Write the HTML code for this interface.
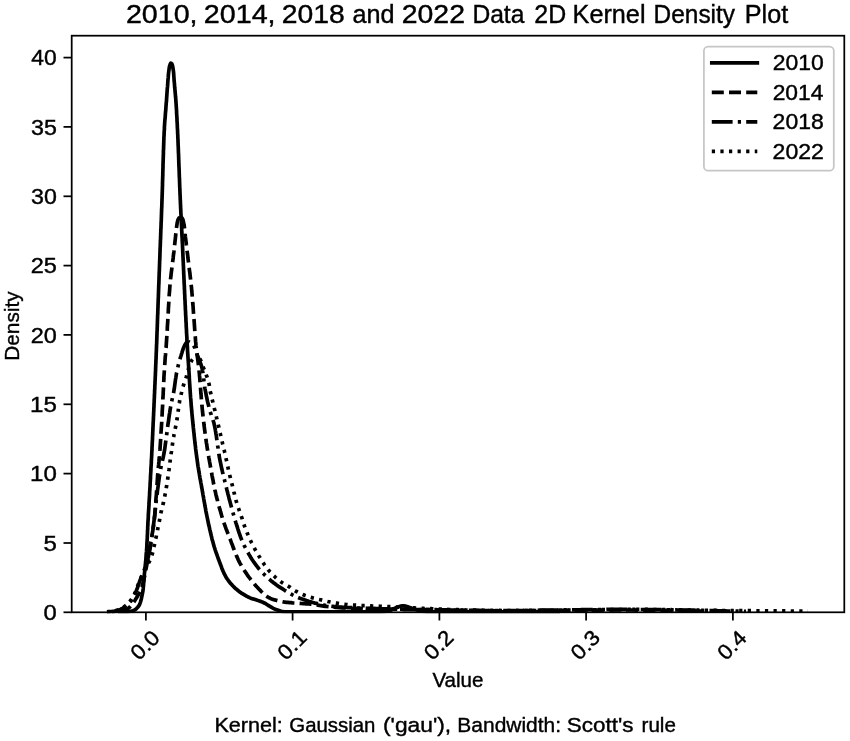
<!DOCTYPE html>
<html lang="en"><head><meta charset="utf-8"><title>2010, 2014, 2018 and 2022 Data 2D Kernel Density Plot</title>
<style>html,body{margin:0;padding:0;background:#fff;}body{width:850px;height:741px;overflow:hidden;}</style></head>
<body>
<svg width="850" height="741" viewBox="0 0 850 741" style="display:block">
<rect x="0" y="0" width="850" height="741" fill="#ffffff"/>
<defs><clipPath id="ax"><rect x="71.7" y="35.7" width="772.5999999999999" height="577.5999999999999"/></clipPath></defs>
<g clip-path="url(#ax)" fill="none" stroke="#000" stroke-linejoin="round">
<path d="M118.0 611.9 L119.5 611.9 L121.0 611.9 L122.5 611.9 L124.0 611.8 L125.5 611.8 L127.0 611.8 L128.5 611.6 L130.0 611.4 L131.5 611.1 L132.9 610.7 L134.3 610.1 L135.6 609.3 L136.7 608.3 L137.7 607.2 L138.7 606.0 L139.5 604.7 L140.0 603.4 L140.5 602.0 L140.9 600.5 L141.3 599.0 L141.6 597.6 L141.9 596.1 L142.2 594.6 L142.5 593.2 L142.8 591.7 L143.0 590.2 L143.2 588.7 L143.3 587.2 L143.5 585.7 L143.6 584.2 L143.7 582.8 L143.9 581.3 L144.0 579.8 L144.1 578.3 L144.2 576.8 L144.3 575.3 L144.4 573.8 L144.6 572.3 L144.7 570.8 L144.9 569.3 L145.0 567.8 L145.2 566.3 L145.3 564.8 L145.5 563.3 L145.6 561.8 L145.8 560.3 L145.9 558.8 L146.0 557.3 L146.1 555.8 L146.2 554.4 L146.3 552.9 L146.5 551.4 L146.6 549.9 L146.7 548.4 L146.8 546.9 L146.9 545.4 L146.9 543.9 L147.0 542.4 L147.1 540.9 L147.2 539.4 L147.3 537.9 L147.3 536.4 L147.4 534.9 L147.5 533.4 L147.5 531.9 L147.6 530.4 L147.7 528.9 L147.7 527.4 L147.8 525.9 L147.9 524.4 L147.9 522.9 L148.0 521.4 L148.1 519.9 L148.2 518.4 L148.3 516.9 L148.3 515.4 L148.4 513.9 L148.5 512.4 L148.6 510.9 L148.7 509.4 L148.8 507.9 L148.9 506.4 L149.0 504.9 L149.0 503.4 L149.1 501.9 L149.2 500.4 L149.3 498.9 L149.4 497.4 L149.5 495.9 L149.6 494.4 L149.6 492.9 L149.7 491.5 L149.8 490.0 L149.9 488.5 L150.0 487.0 L150.1 485.5 L150.1 484.0 L150.2 482.5 L150.3 481.0 L150.4 479.5 L150.5 478.0 L150.5 476.5 L150.6 475.0 L150.7 473.5 L150.8 472.0 L150.9 470.5 L150.9 469.0 L151.0 467.5 L151.1 466.0 L151.2 464.5 L151.3 463.0 L151.3 461.5 L151.4 460.0 L151.5 458.5 L151.6 457.0 L151.7 455.5 L151.7 454.0 L151.8 452.5 L151.9 451.0 L152.0 449.5 L152.0 448.0 L152.1 446.5 L152.2 445.0 L152.2 443.5 L152.3 442.0 L152.4 440.5 L152.5 439.0 L152.5 437.5 L152.6 436.0 L152.7 434.5 L152.7 433.0 L152.8 431.5 L152.9 430.0 L152.9 428.5 L153.0 427.0 L153.1 425.5 L153.1 424.0 L153.2 422.5 L153.3 421.0 L153.4 419.5 L153.4 418.0 L153.5 416.5 L153.6 415.0 L153.6 413.5 L153.7 412.0 L153.8 410.6 L153.8 409.1 L153.9 407.6 L154.0 406.1 L154.0 404.6 L154.1 403.1 L154.2 401.6 L154.2 400.1 L154.3 398.6 L154.4 397.1 L154.4 395.6 L154.5 394.1 L154.6 392.6 L154.6 391.1 L154.7 389.6 L154.8 388.1 L154.8 386.6 L154.9 385.1 L155.0 383.6 L155.0 382.1 L155.1 380.6 L155.2 379.1 L155.2 377.6 L155.3 376.1 L155.4 374.6 L155.4 373.1 L155.5 371.6 L155.6 370.1 L155.6 368.6 L155.7 367.1 L155.7 365.6 L155.8 364.1 L155.9 362.6 L155.9 361.1 L156.0 359.6 L156.1 358.1 L156.1 356.6 L156.2 355.1 L156.2 353.6 L156.3 352.1 L156.4 350.6 L156.4 349.1 L156.5 347.6 L156.5 346.1 L156.6 344.6 L156.7 343.1 L156.7 341.6 L156.8 340.1 L156.8 338.6 L156.9 337.1 L156.9 335.6 L157.0 334.1 L157.0 332.6 L157.1 331.1 L157.2 329.6 L157.2 328.1 L157.3 326.6 L157.3 325.1 L157.4 323.6 L157.4 322.1 L157.5 320.6 L157.5 319.1 L157.6 317.6 L157.6 316.1 L157.7 314.6 L157.8 313.1 L157.8 311.6 L157.9 310.1 L157.9 308.6 L158.0 307.1 L158.0 305.6 L158.1 304.1 L158.1 302.6 L158.2 301.1 L158.2 299.6 L158.3 298.1 L158.4 296.6 L158.4 295.1 L158.5 293.6 L158.5 292.1 L158.6 290.6 L158.6 289.1 L158.7 287.7 L158.7 286.2 L158.8 284.7 L158.9 283.2 L158.9 281.7 L159.0 280.2 L159.0 278.7 L159.1 277.2 L159.1 275.7 L159.2 274.2 L159.2 272.7 L159.3 271.2 L159.4 269.7 L159.4 268.2 L159.5 266.7 L159.5 265.2 L159.6 263.7 L159.6 262.2 L159.7 260.7 L159.8 259.2 L159.8 257.7 L159.9 256.2 L159.9 254.7 L160.0 253.2 L160.0 251.7 L160.1 250.2 L160.1 248.7 L160.2 247.2 L160.3 245.7 L160.3 244.2 L160.4 242.7 L160.4 241.2 L160.5 239.7 L160.6 238.2 L160.6 236.7 L160.7 235.2 L160.7 233.7 L160.8 232.2 L160.8 230.7 L160.9 229.2 L161.0 227.7 L161.0 226.2 L161.1 224.7 L161.1 223.2 L161.2 221.7 L161.3 220.2 L161.3 218.7 L161.4 217.2 L161.4 215.7 L161.5 214.2 L161.5 212.7 L161.6 211.2 L161.6 209.7 L161.7 208.2 L161.8 206.7 L161.8 205.2 L161.9 203.7 L161.9 202.2 L162.0 200.7 L162.0 199.2 L162.1 197.7 L162.1 196.2 L162.2 194.7 L162.2 193.2 L162.3 191.7 L162.3 190.2 L162.4 188.7 L162.4 187.2 L162.5 185.7 L162.5 184.2 L162.5 182.7 L162.6 181.2 L162.6 179.7 L162.7 178.2 L162.7 176.7 L162.8 175.2 L162.8 173.7 L162.8 172.2 L162.9 170.7 L162.9 169.2 L163.0 167.7 L163.0 166.2 L163.0 164.7 L163.1 163.2 L163.1 161.7 L163.2 160.2 L163.2 158.7 L163.3 157.2 L163.3 155.7 L163.4 154.2 L163.4 152.7 L163.4 151.2 L163.5 149.7 L163.6 148.2 L163.6 146.7 L163.7 145.2 L163.7 143.7 L163.8 142.2 L163.8 140.7 L163.9 139.2 L163.9 137.7 L164.0 136.2 L164.1 134.7 L164.1 133.2 L164.2 131.7 L164.3 130.3 L164.4 128.8 L164.4 127.3 L164.5 125.8 L164.6 124.3 L164.7 122.8 L164.8 121.3 L164.9 119.8 L165.1 118.3 L165.2 116.8 L165.3 115.3 L165.4 113.8 L165.5 112.3 L165.7 110.8 L165.8 109.3 L165.9 107.8 L166.0 106.3 L166.1 104.8 L166.2 103.3 L166.4 101.8 L166.5 100.3 L166.6 98.8 L166.7 97.3 L166.8 95.8 L166.9 94.3 L167.0 92.9 L167.1 91.4 L167.2 89.9 L167.3 88.4 L167.5 86.9 L167.6 85.4 L167.7 83.9 L167.8 82.4 L167.9 80.9 L168.0 79.4 L168.2 77.9 L168.3 76.4 L168.4 74.9 L168.5 73.4 L168.7 71.9 L168.9 70.4 L169.1 68.9 L169.3 67.4 L169.6 66.0 L170.1 64.5 L170.8 63.2 L171.8 63.8 L172.4 65.2 L172.7 66.7 L173.0 68.2 L173.2 69.7 L173.4 71.1 L173.6 72.6 L173.7 74.1 L173.8 75.6 L173.9 77.1 L174.0 78.6 L174.1 80.1 L174.2 81.6 L174.4 83.1 L174.5 84.6 L174.6 86.1 L174.7 87.6 L174.9 89.1 L175.0 90.6 L175.1 92.1 L175.3 93.6 L175.4 95.1 L175.5 96.6 L175.7 98.1 L175.8 99.6 L175.9 101.0 L176.0 102.5 L176.1 104.0 L176.2 105.5 L176.3 107.0 L176.4 108.5 L176.5 110.0 L176.6 111.5 L176.6 113.0 L176.7 114.5 L176.8 116.0 L176.9 117.5 L177.0 119.0 L177.0 120.5 L177.1 122.0 L177.2 123.5 L177.3 125.0 L177.3 126.5 L177.4 128.0 L177.5 129.5 L177.6 131.0 L177.6 132.5 L177.7 134.0 L177.8 135.5 L177.8 137.0 L177.9 138.5 L178.0 140.0 L178.0 141.5 L178.1 143.0 L178.1 144.5 L178.2 146.0 L178.3 147.5 L178.3 149.0 L178.4 150.5 L178.4 152.0 L178.5 153.5 L178.6 155.0 L178.6 156.5 L178.7 158.0 L178.7 159.5 L178.8 161.0 L178.8 162.5 L178.9 164.0 L178.9 165.5 L179.0 167.0 L179.1 168.5 L179.1 170.0 L179.2 171.5 L179.2 173.0 L179.3 174.5 L179.3 176.0 L179.4 177.5 L179.5 179.0 L179.5 180.5 L179.6 182.0 L179.6 183.5 L179.7 185.0 L179.7 186.5 L179.8 188.0 L179.9 189.5 L179.9 191.0 L180.0 192.5 L180.0 193.9 L180.1 195.4 L180.2 196.9 L180.2 198.4 L180.3 199.9 L180.4 201.4 L180.4 202.9 L180.5 204.4 L180.6 205.9 L180.6 207.4 L180.7 208.9 L180.8 210.4 L180.8 211.9 L180.9 213.4 L181.0 214.9 L181.1 216.4 L181.1 217.9 L181.2 219.4 L181.3 220.9 L181.4 222.4 L181.4 223.9 L181.5 225.4 L181.6 226.9 L181.7 228.4 L181.7 229.9 L181.8 231.4 L181.9 232.9 L181.9 234.4 L182.0 235.9 L182.1 237.4 L182.2 238.9 L182.2 240.4 L182.3 241.9 L182.4 243.4 L182.5 244.9 L182.5 246.4 L182.6 247.9 L182.7 249.4 L182.7 250.9 L182.8 252.4 L182.9 253.9 L182.9 255.4 L183.0 256.9 L183.1 258.4 L183.1 259.9 L183.2 261.4 L183.3 262.9 L183.3 264.4 L183.4 265.9 L183.5 267.4 L183.5 268.9 L183.6 270.4 L183.7 271.9 L183.7 273.4 L183.8 274.9 L183.9 276.4 L183.9 277.9 L184.0 279.4 L184.1 280.9 L184.1 282.4 L184.2 283.9 L184.3 285.4 L184.4 286.8 L184.4 288.3 L184.5 289.8 L184.6 291.3 L184.6 292.8 L184.7 294.3 L184.8 295.8 L184.8 297.3 L184.9 298.8 L185.0 300.3 L185.1 301.8 L185.1 303.3 L185.2 304.8 L185.3 306.3 L185.3 307.8 L185.4 309.3 L185.5 310.8 L185.6 312.3 L185.6 313.8 L185.7 315.3 L185.8 316.8 L185.9 318.3 L185.9 319.8 L186.0 321.3 L186.1 322.8 L186.2 324.3 L186.2 325.8 L186.3 327.3 L186.4 328.8 L186.5 330.3 L186.5 331.8 L186.6 333.3 L186.7 334.8 L186.8 336.3 L186.9 337.8 L186.9 339.3 L187.0 340.8 L187.1 342.3 L187.2 343.8 L187.3 345.3 L187.4 346.8 L187.5 348.3 L187.5 349.8 L187.6 351.3 L187.7 352.8 L187.8 354.3 L187.9 355.8 L188.0 357.3 L188.1 358.8 L188.2 360.2 L188.3 361.7 L188.4 363.2 L188.5 364.7 L188.6 366.2 L188.7 367.7 L188.8 369.2 L188.9 370.7 L189.0 372.2 L189.1 373.7 L189.2 375.2 L189.3 376.7 L189.3 378.2 L189.4 379.7 L189.5 381.2 L189.6 382.7 L189.7 384.2 L189.8 385.7 L189.9 387.2 L190.0 388.7 L190.1 390.2 L190.2 391.7 L190.3 393.2 L190.4 394.7 L190.5 396.2 L190.6 397.7 L190.8 399.2 L190.9 400.7 L191.0 402.2 L191.1 403.7 L191.2 405.1 L191.3 406.6 L191.5 408.1 L191.6 409.6 L191.7 411.1 L191.9 412.6 L192.0 414.1 L192.1 415.6 L192.3 417.1 L192.4 418.6 L192.6 420.1 L192.7 421.6 L192.9 423.1 L193.0 424.6 L193.2 426.1 L193.3 427.5 L193.5 429.0 L193.6 430.5 L193.8 432.0 L194.0 433.5 L194.1 435.0 L194.3 436.5 L194.4 438.0 L194.6 439.5 L194.8 441.0 L194.9 442.5 L195.1 444.0 L195.3 445.4 L195.5 446.9 L195.6 448.4 L195.8 449.9 L196.0 451.4 L196.2 452.9 L196.4 454.4 L196.6 455.9 L196.8 457.4 L197.0 458.8 L197.2 460.3 L197.4 461.8 L197.6 463.3 L197.8 464.8 L198.0 466.3 L198.3 467.7 L198.5 469.2 L198.8 470.7 L199.0 472.2 L199.3 473.7 L199.5 475.1 L199.8 476.6 L200.0 478.1 L200.3 479.6 L200.6 481.0 L200.8 482.5 L201.1 484.0 L201.4 485.5 L201.6 486.9 L201.9 488.4 L202.2 489.9 L202.4 491.4 L202.7 492.9 L202.9 494.3 L203.2 495.8 L203.5 497.3 L203.7 498.8 L204.0 500.3 L204.2 501.7 L204.5 503.2 L204.8 504.7 L205.0 506.2 L205.3 507.6 L205.6 509.1 L205.8 510.6 L206.1 512.1 L206.4 513.5 L206.7 515.0 L207.0 516.5 L207.3 517.9 L207.6 519.4 L207.9 520.9 L208.2 522.3 L208.5 523.8 L208.8 525.3 L209.2 526.7 L209.5 528.2 L209.8 529.7 L210.2 531.1 L210.5 532.6 L210.9 534.1 L211.2 535.5 L211.6 537.0 L211.9 538.4 L212.3 539.9 L212.7 541.3 L213.1 542.8 L213.5 544.2 L213.9 545.7 L214.3 547.1 L214.8 548.5 L215.2 550.0 L215.7 551.4 L216.2 552.8 L216.7 554.2 L217.2 555.6 L217.7 557.0 L218.2 558.5 L218.8 559.9 L219.3 561.3 L219.8 562.7 L220.3 564.1 L220.9 565.5 L221.4 566.9 L221.9 568.4 L222.5 569.8 L223.1 571.2 L223.7 572.5 L224.3 573.9 L225.0 575.2 L225.7 576.5 L226.4 577.7 L227.2 579.0 L228.1 580.2 L229.0 581.5 L230.0 582.7 L230.9 583.8 L232.0 584.9 L233.0 586.0 L234.1 587.1 L235.1 588.1 L236.2 589.1 L237.4 590.0 L238.6 591.0 L239.8 591.9 L241.0 592.8 L242.3 593.6 L243.6 594.4 L244.9 595.2 L246.2 596.0 L247.5 596.6 L248.8 597.3 L250.2 597.9 L251.6 598.4 L253.0 598.9 L254.4 599.3 L255.9 599.8 L257.3 600.3 L258.8 600.7 L260.2 601.2 L261.6 601.8 L263.0 602.3 L264.3 603.0 L265.6 603.7 L266.9 604.5 L268.2 605.3 L269.5 606.1 L270.8 606.9 L272.1 607.7 L273.4 608.4 L274.7 609.0 L276.1 609.6 L277.5 610.1 L278.9 610.6 L280.4 611.1 L281.9 611.5 L283.3 611.7 L284.8 611.8 L286.3 611.8 L287.8 611.8 L289.3 611.9 L290.8 611.9 L292.3 611.9 L293.8 611.9 L295.3 611.9 L296.8 611.9 L298.3 611.9 L299.8 611.9 L301.3 611.9 L302.8 611.9 L304.3 611.9 L305.8 611.9 L307.3 611.9 L308.8 611.9 L310.3 611.9 L311.8 611.9 L313.3 611.9 L314.8 611.9 L316.3 611.9 L317.8 611.9 L319.3 611.9 L320.8 611.9 L322.3 611.9 L323.8 611.9 L325.3 611.9 L326.8 611.9 L328.3 611.9 L329.8 611.9 L331.3 611.9 L332.8 611.9 L334.3 611.9 L335.8 611.9 L337.3 611.9 L338.8 611.9 L340.3 611.9 L341.8 611.9 L343.3 611.9 L344.8 611.9 L346.3 611.9 L347.8 611.9 L349.3 611.9 L350.8 611.9 L352.3 611.9 L353.8 611.9 L355.3 611.9 L356.8 611.9 L358.3 611.9 L359.8 611.9 L361.3 611.9 L362.8 611.9 L364.3 611.9 L365.8 611.9 L367.3 611.9 L368.8 611.9 L370.3 611.9 L371.8 611.9 L373.3 611.9 L374.8 611.9 L376.3 611.9 L377.8 611.9 L379.3 611.9 L380.8 611.8 L382.3 611.7 L383.8 611.6 L385.3 611.5 L386.8 611.2 L388.3 610.9 L389.7 610.5 L391.1 610.0 L392.5 609.4 L393.8 608.7 L395.2 608.1 L396.6 607.6 L398.0 607.0 L399.5 606.5 L400.9 606.1 L402.4 605.8 L403.8 605.8 L405.3 606.1 L406.8 606.5 L408.2 606.9 L409.7 607.4 L411.1 607.9 L412.5 608.4 L413.9 608.9 L415.3 609.5 L416.7 609.9 L418.2 610.3 L419.6 610.7 L421.1 611.0 L422.6 611.3 L424.1 611.5 L425.6 611.7 L427.1 611.8 L428.6 611.9 L430.1 611.9 L431.6 611.9 L433.1 611.9 L434.5 611.9 L436.0 611.9 L437.5 611.9 L439.0 611.9 L440.5 611.9 L442.0 611.9 L443.5 611.9 L445.0 611.9 L446.5 611.9 L448.0 611.9 L449.5 611.9 L451.0 611.9 L452.5 611.9 L454.0 611.9 L455.5 611.9 L457.0 611.9 L458.5 611.9 L460.0 611.9 L461.5 611.9 L463.0 611.9 L464.5 611.9 L466.0 611.9 L467.5 611.9 L469.0 611.9 L470.5 611.9 L472.0 611.9 L473.5 611.9 L475.0 611.9 L476.5 611.9 L478.0 611.9 L479.5 611.9 L481.0 611.9 L482.5 611.9 L484.0 611.9 L485.5 611.9 L487.0 611.9 L488.5 611.9 L490.0 611.9 L491.5 611.9 L493.0 611.9 L494.5 611.9 L496.0 611.9 L497.5 611.9 L499.0 611.9 L500.5 611.9 L502.0 611.9 L503.5 611.9 L505.0 611.9 L506.5 611.9 L508.0 611.9 L509.5 611.9 L511.0 611.9 L512.5 611.9 L514.0 611.9 L515.5 611.9 L517.0 611.9 L518.5 611.9 L520.0 611.9 L521.5 611.9 L523.0 611.9 L524.5 611.9 L526.0 611.9 L527.5 611.9 L529.0 611.9 L530.5 611.9 L532.0 611.9 L533.5 611.9 L535.0 611.9 L536.5 611.9 L538.0 611.9 L539.5 611.9 L541.0 611.9 L542.5 611.9 L544.0 611.9 L545.5 611.9 L547.0 611.9 L548.5 611.9 L550.0 611.9 L551.5 611.9 L553.0 611.9 L554.5 611.9 L556.0 611.9 L557.5 611.9 L559.1 611.9 L560.0 611.9" stroke-width="3.7"/>
<path d="M112.0 611.8 L113.5 611.8 L115.0 611.7 L116.5 611.6 L118.0 611.4 L119.5 611.3 L121.0 611.1 L122.5 610.8 L124.0 610.4 L125.4 609.9 L126.7 609.3 L128.0 608.6 L129.1 607.7 L130.2 606.6 L131.2 605.4 L132.2 604.2 L133.1 603.1 L134.0 601.9 L134.8 600.6 L135.6 599.3 L136.4 598.0 L137.2 596.7 L138.0 595.4 L138.7 594.1 L139.5 592.8 L140.2 591.5 L140.8 590.1 L141.3 588.8 L141.8 587.4 L142.2 585.9 L142.6 584.5 L143.0 583.1 L143.4 581.6 L143.7 580.1 L144.0 578.7 L144.4 577.2 L144.7 575.7 L145.0 574.2 L145.3 572.7 L145.6 571.3 L145.8 569.8 L146.1 568.3 L146.4 566.8 L146.7 565.4 L147.0 563.9 L147.3 562.4 L147.5 560.9 L147.8 559.5 L148.1 558.0 L148.3 556.5 L148.6 555.0 L148.8 553.5 L149.1 552.1 L149.3 550.6 L149.5 549.1 L149.8 547.6 L150.0 546.1 L150.3 544.7 L150.6 543.2 L150.8 541.7 L151.1 540.2 L151.3 538.8 L151.6 537.3 L151.9 535.8 L152.1 534.3 L152.4 532.8 L152.7 531.4 L152.9 529.9 L153.1 528.4 L153.4 526.9 L153.6 525.4 L153.8 523.9 L154.0 522.5 L154.2 521.0 L154.3 519.5 L154.5 518.0 L154.6 516.5 L154.8 515.0 L154.9 513.5 L155.0 512.0 L155.1 510.5 L155.3 509.0 L155.4 507.5 L155.5 506.0 L155.6 504.5 L155.7 503.0 L155.8 501.5 L155.9 500.1 L156.0 498.6 L156.1 497.1 L156.3 495.6 L156.4 494.1 L156.5 492.6 L156.6 491.1 L156.7 489.6 L156.8 488.1 L156.9 486.6 L157.0 485.1 L157.1 483.6 L157.2 482.1 L157.3 480.6 L157.4 479.1 L157.5 477.6 L157.6 476.1 L157.7 474.6 L157.9 473.1 L158.0 471.6 L158.1 470.1 L158.3 468.6 L158.4 467.1 L158.5 465.7 L158.7 464.2 L158.8 462.7 L159.0 461.2 L159.1 459.7 L159.2 458.2 L159.4 456.7 L159.5 455.2 L159.6 453.7 L159.7 452.2 L159.8 450.7 L160.0 449.2 L160.1 447.7 L160.2 446.2 L160.3 444.7 L160.4 443.2 L160.5 441.7 L160.6 440.2 L160.7 438.7 L160.8 437.2 L160.9 435.7 L161.0 434.2 L161.0 432.7 L161.1 431.3 L161.2 429.8 L161.3 428.3 L161.4 426.8 L161.5 425.3 L161.6 423.8 L161.7 422.3 L161.7 420.8 L161.8 419.3 L161.9 417.8 L162.0 416.3 L162.1 414.8 L162.2 413.3 L162.2 411.8 L162.3 410.3 L162.4 408.8 L162.5 407.3 L162.6 405.8 L162.6 404.3 L162.7 402.8 L162.8 401.3 L162.9 399.8 L162.9 398.3 L163.0 396.8 L163.1 395.3 L163.2 393.8 L163.2 392.3 L163.3 390.8 L163.4 389.3 L163.4 387.8 L163.5 386.3 L163.6 384.8 L163.6 383.3 L163.7 381.8 L163.8 380.3 L163.9 378.8 L163.9 377.3 L164.0 375.8 L164.1 374.3 L164.2 372.8 L164.3 371.3 L164.4 369.8 L164.5 368.3 L164.6 366.8 L164.7 365.3 L164.8 363.9 L164.9 362.4 L165.0 360.9 L165.1 359.4 L165.2 357.9 L165.3 356.4 L165.5 354.9 L165.6 353.4 L165.7 351.9 L165.8 350.4 L165.9 348.9 L166.1 347.4 L166.2 345.9 L166.3 344.4 L166.4 342.9 L166.5 341.4 L166.6 339.9 L166.7 338.4 L166.8 336.9 L166.9 335.4 L167.0 333.9 L167.1 332.4 L167.2 330.9 L167.3 329.4 L167.3 327.9 L167.4 326.4 L167.5 324.9 L167.6 323.4 L167.7 322.0 L167.8 320.5 L167.8 319.0 L167.9 317.5 L168.0 316.0 L168.1 314.5 L168.2 313.0 L168.3 311.5 L168.3 310.0 L168.4 308.5 L168.5 307.0 L168.6 305.5 L168.7 304.0 L168.8 302.5 L168.9 301.0 L169.0 299.5 L169.0 298.0 L169.1 296.5 L169.2 295.0 L169.3 293.5 L169.5 292.0 L169.6 290.5 L169.7 289.0 L169.8 287.5 L169.9 286.0 L170.0 284.5 L170.2 283.0 L170.3 281.5 L170.5 280.0 L170.6 278.6 L170.8 277.1 L171.0 275.6 L171.1 274.1 L171.3 272.6 L171.5 271.1 L171.7 269.6 L171.9 268.1 L172.1 266.6 L172.3 265.2 L172.5 263.7 L172.6 262.2 L172.8 260.7 L173.0 259.2 L173.2 257.7 L173.3 256.2 L173.5 254.7 L173.7 253.2 L173.9 251.7 L174.0 250.3 L174.2 248.8 L174.4 247.3 L174.5 245.8 L174.7 244.3 L174.9 242.8 L175.0 241.3 L175.2 239.8 L175.4 238.3 L175.5 236.8 L175.7 235.3 L175.8 233.8 L176.0 232.3 L176.1 230.8 L176.3 229.3 L176.5 227.8 L176.7 226.3 L176.9 224.9 L177.1 223.4 L177.4 222.0 L177.8 220.4 L178.3 219.0 L179.1 217.9 L180.5 217.2" stroke-width="3.7" stroke-dasharray="12 5.2" stroke-dashoffset="9.20"/>
<path d="M180.5 217.2 L181.9 217.9 L182.7 219.0 L183.2 220.5 L183.5 222.0 L183.8 223.5 L184.0 224.9 L184.3 226.4 L184.5 227.9 L184.7 229.4 L184.8 230.9 L185.0 232.4 L185.1 233.9 L185.3 235.4 L185.4 236.9 L185.6 238.4 L185.8 239.9 L186.0 241.4 L186.2 242.9 L186.3 244.4 L186.5 245.8 L186.7 247.3 L186.9 248.8 L187.0 250.3 L187.2 251.8 L187.4 253.3 L187.6 254.8 L187.8 256.3 L187.9 257.8 L188.1 259.2 L188.3 260.7 L188.5 262.2 L188.7 263.7 L188.8 265.2 L189.0 266.7 L189.2 268.2 L189.4 269.7 L189.6 271.2 L189.8 272.6 L190.0 274.1 L190.1 275.6 L190.3 277.1 L190.5 278.6 L190.6 280.1 L190.8 281.6 L191.0 283.1 L191.1 284.6 L191.3 286.1 L191.5 287.5 L191.6 289.0 L191.7 290.5 L191.9 292.0 L192.0 293.5 L192.1 295.0 L192.3 296.5 L192.4 298.0 L192.5 299.5 L192.6 301.0 L192.7 302.5 L192.8 304.0 L193.0 305.5 L193.1 307.0 L193.2 308.5 L193.3 310.0 L193.4 311.5 L193.5 313.0 L193.6 314.5 L193.7 316.0 L193.8 317.5 L193.9 318.9 L194.1 320.4 L194.2 321.9 L194.3 323.4 L194.4 324.9 L194.5 326.4 L194.6 327.9 L194.7 329.4 L194.8 330.9 L194.9 332.4 L195.0 333.9 L195.1 335.4 L195.3 336.9 L195.4 338.4 L195.5 339.9 L195.6 341.4 L195.8 342.9 L195.9 344.4 L196.0 345.9 L196.2 347.4 L196.4 348.8 L196.6 350.3 L196.7 351.8 L196.9 353.3 L197.1 354.8 L197.3 356.3 L197.5 357.8 L197.7 359.3 L197.9 360.8 L198.1 362.2 L198.3 363.7 L198.5 365.2 L198.6 366.7 L198.8 368.2 L199.0 369.7 L199.1 371.2 L199.3 372.7 L199.4 374.2 L199.5 375.7 L199.7 377.2 L199.8 378.6 L199.9 380.1 L200.0 381.6 L200.2 383.1 L200.3 384.6 L200.4 386.1 L200.5 387.6 L200.6 389.1 L200.7 390.6 L200.8 392.1 L200.9 393.6 L201.1 395.1 L201.2 396.6 L201.3 398.1 L201.4 399.6 L201.5 401.1 L201.7 402.6 L201.8 404.1 L201.9 405.6 L202.1 407.1 L202.2 408.6 L202.4 410.0 L202.5 411.5 L202.7 413.0 L202.8 414.5 L203.0 416.0 L203.2 417.5 L203.3 419.0 L203.5 420.5 L203.7 422.0 L203.9 423.5 L204.0 425.0 L204.2 426.4 L204.4 427.9 L204.6 429.4 L204.8 430.9 L205.0 432.4 L205.2 433.9 L205.4 435.4 L205.6 436.9 L205.8 438.3 L206.0 439.8 L206.2 441.3 L206.4 442.8 L206.7 444.3 L206.9 445.8 L207.1 447.2 L207.3 448.7 L207.6 450.2 L207.8 451.7 L208.1 453.2 L208.3 454.6 L208.6 456.1 L208.8 457.6 L209.1 459.1 L209.4 460.6 L209.6 462.0 L209.9 463.5 L210.2 465.0 L210.4 466.5 L210.7 467.9 L211.0 469.4 L211.2 470.9 L211.5 472.4 L211.8 473.8 L212.0 475.3 L212.3 476.8 L212.6 478.3 L212.9 479.7 L213.2 481.2 L213.4 482.7 L213.7 484.2 L214.0 485.6 L214.3 487.1 L214.6 488.6 L214.9 490.0 L215.3 491.5 L215.6 493.0 L215.9 494.4 L216.3 495.9 L216.6 497.3 L217.0 498.8 L217.4 500.2 L217.7 501.7 L218.1 503.1 L218.5 504.6 L218.9 506.0 L219.3 507.5 L219.7 508.9 L220.2 510.4 L220.6 511.8 L221.0 513.3 L221.4 514.7 L221.8 516.1 L222.3 517.6 L222.7 519.0 L223.2 520.4 L223.6 521.9 L224.1 523.3 L224.6 524.7 L225.1 526.1 L225.6 527.5 L226.1 528.9 L226.7 530.3 L227.2 531.7 L227.7 533.1 L228.3 534.5 L228.8 535.9 L229.4 537.3 L229.9 538.7 L230.5 540.1 L231.0 541.5 L231.5 542.9 L232.1 544.3 L232.6 545.7 L233.1 547.2 L233.6 548.6 L234.2 550.0 L234.7 551.4 L235.2 552.8 L235.8 554.2 L236.4 555.6 L237.0 556.9 L237.6 558.3 L238.2 559.7 L238.8 561.0 L239.5 562.3 L240.2 563.6 L241.0 565.0 L241.7 566.3 L242.5 567.5 L243.3 568.8 L244.1 570.1 L244.9 571.4 L245.8 572.6 L246.6 573.8 L247.4 575.1 L248.3 576.3 L249.2 577.5 L250.1 578.7 L251.0 579.9 L251.9 581.1 L252.9 582.3 L253.9 583.4 L254.8 584.6 L255.8 585.7 L256.8 586.8 L257.9 587.9 L258.9 589.0 L260.0 590.1 L261.0 591.2 L262.1 592.3 L263.2 593.4 L264.4 594.4 L265.5 595.4 L266.7 596.3 L267.9 597.1 L269.2 597.8 L270.5 598.4 L271.8 598.9 L273.2 599.4 L274.7 599.9 L276.1 600.3 L277.6 600.7 L279.1 601.1 L280.6 601.4 L282.1 601.6 L283.5 601.9 L285.0 602.1 L286.5 602.3 L288.0 602.4 L289.5 602.6 L291.0 602.7 L292.5 602.9 L294.0 603.0 L295.5 603.1 L297.0 603.2 L298.5 603.3 L300.0 603.4 L301.5 603.5 L303.0 603.6 L304.5 603.7 L306.0 603.8 L307.5 603.9 L309.0 604.0 L310.5 604.1 L311.9 604.3 L313.4 604.5 L314.9 604.7 L316.4 604.9 L317.9 605.2 L319.4 605.4 L320.9 605.7 L322.3 605.9 L323.8 606.1 L325.3 606.3 L326.8 606.5 L328.3 606.6 L329.8 606.8 L331.3 606.9 L332.8 607.1 L334.3 607.2 L335.8 607.4 L337.3 607.5 L338.7 607.6 L340.2 607.7 L341.7 607.8 L343.2 607.9 L344.7 608.0 L346.2 608.1 L347.7 608.1 L349.2 608.2 L350.7 608.2 L352.2 608.3 L353.7 608.3 L355.2 608.4 L356.7 608.4 L358.2 608.4 L359.7 608.5 L361.2 608.5 L362.7 608.5 L364.2 608.6 L365.7 608.6 L367.2 608.6 L368.7 608.6 L370.2 608.7 L371.7 608.7 L373.2 608.7 L374.7 608.7 L376.2 608.8 L377.7 608.8 L379.2 608.8 L380.7 608.8 L382.2 608.9 L383.7 608.9 L385.2 608.9 L386.7 608.9 L388.2 609.0 L389.7 609.0 L391.2 609.0 L392.7 609.1 L394.2 609.1 L395.7 609.1 L397.2 609.1 L398.7 609.2 L400.2 609.2 L401.7 609.2 L403.2 609.3 L404.7 609.3 L406.2 609.3 L407.7 609.3 L409.2 609.4 L410.7 609.4 L412.2 609.4 L413.7 609.4 L415.2 609.5 L416.7 609.5 L418.2 609.5 L419.7 609.6 L421.2 609.6 L422.7 609.6 L424.2 609.6 L425.7 609.7 L427.2 609.7 L428.7 609.7 L430.2 609.7 L431.7 609.8 L433.2 609.8 L434.7 609.8 L436.2 609.8 L437.7 609.9 L439.2 609.9 L440.7 609.9 L442.2 609.9 L443.7 610.0 L445.2 610.0 L446.7 610.0 L448.2 610.0 L449.7 610.1 L451.2 610.1 L452.7 610.1 L454.2 610.2 L455.7 610.2 L457.2 610.2 L458.7 610.3 L460.2 610.3 L461.7 610.3 L463.2 610.3 L464.7 610.4 L466.2 610.4 L467.7 610.4 L469.2 610.5 L470.7 610.5 L472.2 610.5 L473.7 610.5 L475.2 610.6 L476.7 610.6 L478.2 610.6 L479.7 610.6 L481.2 610.7 L482.7 610.7 L484.2 610.7 L485.7 610.7 L487.2 610.7 L488.7 610.7 L490.2 610.8 L491.7 610.8 L493.2 610.8 L494.7 610.8 L496.2 610.8 L497.7 610.8 L499.2 610.8 L500.7 610.8 L502.2 610.8 L503.7 610.8 L505.2 610.8 L506.7 610.8 L508.2 610.8 L509.7 610.8 L511.2 610.8 L512.7 610.8 L514.2 610.8 L515.7 610.8 L517.2 610.7 L518.7 610.7 L520.2 610.7 L521.7 610.7 L523.2 610.7 L524.7 610.7 L526.2 610.7 L527.7 610.7 L529.2 610.7 L530.7 610.6 L532.2 610.6 L533.7 610.6 L535.2 610.6 L536.7 610.6 L538.2 610.6 L539.7 610.6 L541.2 610.6 L542.7 610.5 L544.2 610.5 L545.7 610.5 L547.2 610.5 L548.7 610.5 L550.2 610.5 L551.7 610.5 L553.2 610.4 L554.7 610.4 L556.2 610.4 L557.7 610.4 L559.2 610.4 L560.7 610.4 L562.2 610.4 L563.7 610.4 L565.2 610.4 L566.7 610.4 L568.2 610.3 L569.7 610.3 L571.2 610.3 L572.7 610.3 L574.2 610.3 L575.7 610.3 L577.2 610.3 L578.7 610.2 L580.2 610.2 L581.7 610.2 L583.2 610.2 L584.7 610.2 L586.2 610.2 L587.7 610.2 L589.2 610.2 L590.7 610.1 L592.2 610.1 L593.7 610.1 L595.2 610.1 L596.7 610.1 L598.2 610.1 L599.7 610.1 L601.2 610.1 L602.7 610.1 L604.2 610.0 L605.7 610.0 L607.2 610.0 L608.7 610.0 L610.2 610.0 L611.7 610.0 L613.2 610.0 L614.7 610.0 L616.2 610.0 L617.7 610.0 L619.2 610.0 L620.7 610.0 L622.2 610.0 L623.7 610.0 L625.2 610.0 L626.7 610.0 L628.2 610.0 L629.7 610.0 L631.2 610.0 L632.7 610.0 L634.2 610.0 L635.7 610.1 L637.2 610.1 L638.7 610.1 L640.2 610.1 L641.7 610.1 L643.2 610.1 L644.7 610.1 L646.2 610.1 L647.7 610.1 L649.2 610.2 L650.7 610.2 L652.2 610.2 L653.7 610.2 L655.2 610.2 L656.7 610.2 L658.2 610.3 L659.7 610.3 L661.2 610.3 L662.7 610.3 L664.2 610.3 L665.7 610.3 L667.2 610.4 L668.7 610.4 L670.2 610.4 L671.7 610.4 L673.2 610.4 L674.7 610.5 L676.2 610.5 L677.7 610.5 L679.2 610.6 L680.7 610.6 L682.2 610.6 L683.7 610.7 L685.2 610.7 L686.7 610.7 L688.2 610.8 L689.7 610.8 L691.2 610.9 L692.7 610.9 L694.2 611.0 L695.7 611.0 L697.2 611.0 L698.7 611.1 L700.2 611.1 L701.7 611.2 L702.0 611.2" stroke-width="3.7" stroke-dasharray="12 5.2" stroke-dashoffset="16.68"/>
<path d="M107.0 611.8 L108.5 611.8 L110.0 611.7 L111.5 611.5 L113.0 611.3 L114.5 611.1 L115.9 610.8 L117.4 610.4 L118.8 610.0 L120.3 609.4 L121.6 608.8 L122.9 608.1 L124.2 607.3 L125.4 606.4 L126.5 605.4 L127.7 604.4 L128.8 603.4 L129.9 602.3 L130.8 601.2 L131.7 600.0 L132.5 598.7 L133.3 597.4 L134.0 596.1 L134.7 594.7 L135.3 593.4 L135.9 592.0 L136.4 590.6 L136.9 589.2 L137.5 587.8 L137.9 586.4 L138.4 585.0 L138.9 583.5 L139.4 582.1 L139.9 580.7 L140.5 579.3 L141.0 577.9 L141.6 576.5 L142.2 575.1 L142.8 573.8 L143.3 572.4 L143.9 571.0 L144.4 569.6 L144.9 568.2 L145.4 566.7 L145.9 565.3 L146.4 563.9 L146.8 562.5 L147.2 561.0 L147.6 559.6 L148.0 558.1 L148.4 556.7 L148.7 555.2 L149.0 553.7 L149.4 552.3 L149.6 550.8 L149.9 549.3 L150.2 547.9 L150.4 546.4 L150.7 544.9 L150.9 543.4 L151.2 541.9 L151.4 540.5 L151.6 539.0 L151.8 537.5 L152.0 536.0 L152.2 534.5 L152.4 533.0 L152.6 531.5 L152.8 530.1 L153.0 528.6 L153.2 527.1 L153.4 525.6 L153.6 524.1 L153.8 522.6 L154.0 521.1 L154.2 519.6 L154.3 518.1 L154.5 516.7 L154.7 515.2 L154.8 513.7 L155.0 512.2 L155.2 510.7 L155.3 509.2 L155.5 507.7 L155.6 506.2 L155.8 504.7 L156.0 503.2 L156.1 501.7 L156.3 500.3 L156.5 498.8 L156.7 497.3 L156.9 495.8 L157.1 494.3 L157.3 492.8 L157.4 491.3 L157.6 489.8 L157.8 488.3 L158.0 486.9 L158.2 485.4 L158.4 483.9 L158.6 482.4 L158.8 480.9 L159.0 479.4 L159.2 477.9 L159.4 476.4 L159.7 475.0 L159.9 473.5 L160.1 472.0 L160.4 470.5 L160.6 469.0 L160.9 467.6 L161.2 466.1 L161.5 464.6 L161.8 463.2 L162.2 461.7 L162.5 460.2 L162.9 458.8 L163.2 457.3 L163.5 455.9 L163.8 454.4 L164.1 452.9 L164.3 451.4 L164.6 450.0 L164.8 448.5 L165.0 447.0 L165.2 445.5 L165.4 444.0 L165.6 442.5 L165.8 441.1 L166.0 439.6 L166.2 438.1 L166.4 436.6 L166.6 435.1 L166.8 433.6 L167.0 432.1 L167.1 430.6 L167.3 429.1 L167.5 427.7 L167.7 426.2 L167.9 424.7 L168.2 423.2 L168.4 421.7 L168.6 420.2 L168.8 418.7 L169.0 417.3 L169.2 415.8 L169.4 414.3 L169.7 412.8 L169.9 411.3 L170.1 409.8 L170.4 408.4 L170.6 406.9 L170.9 405.4 L171.2 403.9 L171.5 402.5 L171.8 401.0 L172.1 399.5 L172.4 398.1 L172.8 396.6 L173.1 395.1 L173.4 393.7 L173.7 392.2 L173.9 390.7 L174.2 389.2 L174.4 387.8 L174.6 386.3 L174.8 384.8 L175.0 383.3 L175.2 381.8 L175.4 380.3 L175.6 378.8 L175.9 377.3 L176.1 375.9 L176.3 374.4 L176.6 372.9 L176.9 371.5 L177.2 370.0 L177.6 368.5 L177.9 367.0 L178.2 365.6 L178.6 364.1 L179.0 362.7 L179.4 361.2 L179.8 359.8 L180.2 358.3 L180.6 356.9 L181.1 355.5 L181.5 354.0 L182.0 352.6 L182.4 351.1 L182.9 349.7 L183.4 348.2 L184.0 346.8 L184.6 345.5 L185.3 344.2 L186.2 342.9 L187.3 341.7 L188.5 341.6" stroke-width="3.7" stroke-dasharray="20.8 5.2 3.2 5.2" stroke-dashoffset="0.00"/>
<path d="M188.5 341.6 L190.0 342.3 L191.2 343.1 L192.4 344.1 L193.4 345.3 L194.2 346.6 L194.8 347.9 L195.3 349.3 L195.8 350.7 L196.3 352.2 L196.8 353.6 L197.3 355.0 L197.9 356.4 L198.4 357.8 L199.0 359.2 L199.6 360.6 L200.1 362.0 L200.6 363.4 L201.1 364.9 L201.6 366.3 L201.9 367.7 L202.3 369.2 L202.5 370.6 L202.8 372.1 L203.0 373.6 L203.2 375.1 L203.4 376.5 L203.6 378.0 L203.7 379.5 L203.9 381.0 L204.1 382.5 L204.3 384.0 L204.5 385.5 L204.7 387.0 L204.9 388.5 L205.2 390.0 L205.5 391.4 L205.8 392.9 L206.1 394.4 L206.3 395.8 L206.7 397.3 L207.0 398.8 L207.3 400.3 L207.6 401.7 L208.0 403.2 L208.3 404.6 L208.7 406.1 L209.0 407.6 L209.4 409.0 L209.8 410.4 L210.2 411.9 L210.7 413.3 L211.2 414.7 L211.7 416.2 L212.2 417.6 L212.7 419.0 L213.1 420.4 L213.6 421.9 L214.0 423.3 L214.3 424.8 L214.6 426.2 L214.9 427.7 L215.2 429.1 L215.4 430.6 L215.7 432.1 L215.9 433.6 L216.2 435.0 L216.4 436.5 L216.6 438.0 L216.8 439.5 L217.0 441.0 L217.2 442.5 L217.4 444.0 L217.6 445.5 L217.9 447.0 L218.1 448.4 L218.3 449.9 L218.5 451.4 L218.7 452.9 L218.9 454.4 L219.2 455.9 L219.4 457.4 L219.7 458.8 L220.0 460.3 L220.3 461.8 L220.6 463.2 L220.9 464.7 L221.2 466.2 L221.5 467.6 L221.8 469.1 L222.2 470.6 L222.5 472.0 L222.9 473.5 L223.2 474.9 L223.6 476.4 L223.9 477.9 L224.3 479.3 L224.7 480.8 L225.0 482.2 L225.4 483.7 L225.7 485.1 L226.1 486.6 L226.5 488.1 L226.8 489.5 L227.2 491.0 L227.6 492.4 L227.9 493.9 L228.3 495.3 L228.7 496.8 L229.0 498.2 L229.4 499.7 L229.8 501.1 L230.2 502.6 L230.6 504.0 L231.0 505.5 L231.4 506.9 L231.8 508.4 L232.2 509.8 L232.6 511.3 L233.0 512.7 L233.4 514.2 L233.8 515.6 L234.2 517.0 L234.6 518.5 L235.0 519.9 L235.5 521.4 L235.9 522.8 L236.4 524.2 L236.8 525.7 L237.3 527.1 L237.7 528.5 L238.2 530.0 L238.6 531.4 L239.1 532.8 L239.6 534.2 L240.1 535.7 L240.6 537.1 L241.1 538.5 L241.7 539.8 L242.3 541.2 L242.9 542.6 L243.5 544.0 L244.1 545.3 L244.8 546.7 L245.5 548.0 L246.2 549.3 L246.9 550.7 L247.6 552.0 L248.4 553.3 L249.1 554.6 L249.9 555.9 L250.6 557.2 L251.4 558.4 L252.2 559.7 L253.1 561.0 L253.9 562.2 L254.8 563.4 L255.7 564.6 L256.6 565.8 L257.5 567.0 L258.5 568.2 L259.4 569.3 L260.4 570.4 L261.4 571.6 L262.4 572.7 L263.5 573.8 L264.5 574.8 L265.6 575.9 L266.7 576.9 L267.8 577.9 L268.9 578.9 L270.1 579.9 L271.2 580.9 L272.4 581.8 L273.5 582.7 L274.7 583.6 L275.9 584.5 L277.2 585.4 L278.4 586.3 L279.7 587.1 L280.9 587.9 L282.2 588.7 L283.5 589.5 L284.7 590.3 L286.0 591.1 L287.3 591.9 L288.6 592.7 L289.9 593.4 L291.2 594.1 L292.5 594.8 L293.9 595.5 L295.2 596.2 L296.6 596.8 L297.9 597.4 L299.3 598.0 L300.7 598.5 L302.1 599.1 L303.5 599.6 L305.0 600.1 L306.4 600.6 L307.8 601.0 L309.2 601.5 L310.7 601.9 L312.1 602.3 L313.6 602.7 L315.0 603.1 L316.5 603.4 L317.9 603.8 L319.4 604.2 L320.9 604.5 L322.3 604.8 L323.8 605.1 L325.3 605.4 L326.8 605.6 L328.2 605.8 L329.7 606.0 L331.2 606.2 L332.7 606.4 L334.2 606.6 L335.7 606.7 L337.2 606.9 L338.7 607.0 L340.2 607.1 L341.7 607.2 L343.2 607.3 L344.7 607.4 L346.2 607.5 L347.7 607.6 L349.2 607.6 L350.6 607.7 L352.1 607.7 L353.6 607.8 L355.1 607.9 L356.6 607.9 L358.1 608.0 L359.6 608.0 L361.1 608.1 L362.6 608.1 L364.1 608.2 L365.6 608.2 L367.1 608.3 L368.6 608.4 L370.1 608.4 L371.6 608.5 L373.1 608.5 L374.6 608.6 L376.1 608.6 L377.6 608.7 L379.1 608.7 L380.6 608.8 L382.1 608.8 L383.6 608.8 L385.1 608.9 L386.6 608.9 L388.1 609.0 L389.6 609.0 L391.1 609.0 L392.6 609.1 L394.1 609.1 L395.6 609.1 L397.1 609.1 L398.6 609.2 L400.1 609.2 L401.6 609.2 L403.1 609.3 L404.6 609.3 L406.1 609.3 L407.6 609.3 L409.1 609.4 L410.6 609.4 L412.1 609.4 L413.6 609.4 L415.1 609.4 L416.6 609.5 L418.1 609.5 L419.6 609.5 L421.1 609.5 L422.6 609.6 L424.1 609.6 L425.6 609.6 L427.1 609.6 L428.6 609.6 L430.1 609.7 L431.6 609.7 L433.1 609.7 L434.6 609.7 L436.1 609.7 L437.6 609.8 L439.1 609.8 L440.6 609.8 L442.1 609.8 L443.6 609.9 L445.1 609.9 L446.6 609.9 L448.1 609.9 L449.6 610.0 L451.1 610.0 L452.6 610.0 L454.1 610.0 L455.6 610.1 L457.1 610.1 L458.6 610.1 L460.1 610.1 L461.6 610.2 L463.1 610.2 L464.6 610.2 L466.1 610.2 L467.6 610.3 L469.1 610.3 L470.6 610.3 L472.1 610.3 L473.6 610.4 L475.1 610.4 L476.6 610.4 L478.1 610.4 L479.6 610.5 L481.1 610.5 L482.6 610.5 L484.1 610.5 L485.6 610.5 L487.1 610.5 L488.6 610.6 L490.1 610.6 L491.6 610.6 L493.1 610.6 L494.6 610.6 L496.1 610.6 L497.6 610.6 L499.1 610.6 L500.6 610.6 L502.1 610.6 L503.6 610.6 L505.1 610.6 L506.6 610.6 L508.1 610.6 L509.6 610.6 L511.1 610.6 L512.6 610.6 L514.1 610.5 L515.6 610.5 L517.1 610.5 L518.6 610.5 L520.1 610.5 L521.6 610.5 L523.1 610.5 L524.6 610.4 L526.1 610.4 L527.6 610.4 L529.1 610.4 L530.6 610.4 L532.1 610.3 L533.6 610.3 L535.1 610.3 L536.6 610.3 L538.1 610.3 L539.6 610.2 L541.1 610.2 L542.6 610.2 L544.1 610.2 L545.6 610.2 L547.1 610.2 L548.6 610.1 L550.1 610.1 L551.6 610.1 L553.1 610.1 L554.6 610.1 L556.1 610.0 L557.6 610.0 L559.1 610.0 L560.6 610.0 L562.1 610.0 L563.6 610.0 L565.1 609.9 L566.6 609.9 L568.1 609.9 L569.6 609.9 L571.1 609.9 L572.6 609.9 L574.1 609.8 L575.6 609.8 L577.1 609.8 L578.6 609.8 L580.1 609.8 L581.6 609.7 L583.1 609.7 L584.6 609.7 L586.1 609.7 L587.6 609.7 L589.1 609.6 L590.6 609.6 L592.1 609.6 L593.6 609.6 L595.1 609.6 L596.6 609.5 L598.1 609.5 L599.6 609.5 L601.1 609.5 L602.6 609.5 L604.1 609.5 L605.6 609.5 L607.1 609.4 L608.6 609.4 L610.1 609.4 L611.6 609.4 L613.1 609.4 L614.6 609.4 L616.1 609.4 L617.6 609.4 L619.1 609.4 L620.6 609.4 L622.1 609.4 L623.6 609.4 L625.1 609.4 L626.6 609.4 L628.1 609.4 L629.6 609.4 L631.1 609.4 L632.6 609.4 L634.1 609.4 L635.6 609.5 L637.1 609.5 L638.6 609.5 L640.1 609.5 L641.6 609.5 L643.1 609.5 L644.6 609.5 L646.1 609.6 L647.6 609.6 L649.1 609.6 L650.6 609.6 L652.1 609.6 L653.6 609.6 L655.1 609.7 L656.6 609.7 L658.1 609.7 L659.6 609.7 L661.1 609.7 L662.6 609.8 L664.1 609.8 L665.6 609.8 L667.1 609.8 L668.6 609.8 L670.1 609.9 L671.6 609.9 L673.1 609.9 L674.6 609.9 L676.1 609.9 L677.6 610.0 L679.1 610.0 L680.6 610.0 L682.1 610.0 L683.6 610.1 L685.1 610.1 L686.6 610.1 L688.1 610.1 L689.6 610.2 L691.1 610.2 L692.6 610.2 L694.1 610.2 L695.6 610.3 L697.1 610.3 L698.6 610.3 L700.1 610.4 L701.6 610.4 L703.1 610.4 L704.6 610.5 L706.1 610.5 L707.6 610.5 L709.1 610.6 L710.6 610.6 L712.1 610.6 L713.6 610.7 L715.1 610.7 L716.6 610.7 L718.1 610.8 L719.6 610.8 L721.1 610.8 L722.6 610.9 L724.1 610.9 L725.6 610.9 L727.1 611.0 L728.6 611.0 L730.1 611.0 L731.6 611.1 L733.1 611.1 L734.6 611.1 L736.1 611.2 L737.6 611.2 L739.1 611.2 L740.6 611.3 L742.1 611.3 L743.6 611.3 L745.1 611.4 L746.0 611.4" stroke-width="3.7" stroke-dasharray="20.8 5.2 3.2 5.2" stroke-dashoffset="19.42"/>
<path d="M106.9 611.8 L108.4 611.7 L109.9 611.6 L111.4 611.4 L112.9 611.2 L114.3 610.9 L115.8 610.6 L117.3 610.2 L118.7 609.7 L120.1 609.1 L121.5 608.5 L122.8 607.8 L124.0 607.0 L125.2 606.0 L126.4 605.1 L127.5 604.1 L128.5 603.0 L129.5 601.9 L130.5 600.7 L131.3 599.5 L132.1 598.2 L132.9 596.9 L133.6 595.6 L134.3 594.2 L135.0 592.9 L135.6 591.5 L136.2 590.2 L136.7 588.8 L137.2 587.4 L137.7 585.9 L138.3 584.5 L138.8 583.1 L139.3 581.7 L139.8 580.3 L140.4 578.9 L141.0 577.5 L141.6 576.2 L142.3 574.8 L142.9 573.5 L143.6 572.1 L144.3 570.8 L145.0 569.5 L145.7 568.1 L146.4 566.8 L147.1 565.5 L147.9 564.2 L148.6 562.9 L149.3 561.6 L150.0 560.2 L150.6 558.9 L151.1 557.5 L151.6 556.0 L152.1 554.6 L152.5 553.2 L152.9 551.7 L153.2 550.2 L153.5 548.8 L153.8 547.3 L154.2 545.8 L154.5 544.4 L154.8 542.9 L155.1 541.5 L155.4 540.0 L155.8 538.5 L156.1 537.1 L156.4 535.6 L156.7 534.1 L157.0 532.7 L157.3 531.2 L157.6 529.7 L157.9 528.2 L158.2 526.8 L158.5 525.3 L158.8 523.8 L159.1 522.4 L159.4 520.9 L159.7 519.4 L159.9 517.9 L160.2 516.5 L160.5 515.0 L160.8 513.5 L161.1 512.1 L161.5 510.6 L161.8 509.1 L162.2 507.7 L162.6 506.2 L162.9 504.8 L163.3 503.3 L163.6 501.9 L163.9 500.4 L164.2 498.9 L164.5 497.5 L164.8 496.0 L165.1 494.5 L165.4 493.0 L165.7 491.6 L165.9 490.1 L166.2 488.6 L166.4 487.1 L166.7 485.7 L166.9 484.2 L167.2 482.7 L167.4 481.2 L167.6 479.7 L167.8 478.2 L168.0 476.7 L168.2 475.3 L168.4 473.8 L168.6 472.3 L168.8 470.8 L169.1 469.3 L169.3 467.8 L169.5 466.3 L169.7 464.9 L169.9 463.4 L170.0 461.9 L170.2 460.4 L170.4 458.9 L170.6 457.4 L170.8 455.9 L171.0 454.5 L171.2 453.0 L171.5 451.5 L171.7 450.0 L171.9 448.5 L172.1 447.0 L172.3 445.5 L172.5 444.1 L172.7 442.6 L173.0 441.1 L173.2 439.6 L173.4 438.1 L173.7 436.6 L173.9 435.2 L174.2 433.7 L174.5 432.2 L174.8 430.7 L175.1 429.3 L175.4 427.8 L175.7 426.3 L176.0 424.9 L176.3 423.4 L176.6 421.9 L176.8 420.4 L177.1 419.0 L177.3 417.5 L177.5 416.0 L177.7 414.5 L177.9 413.0 L178.1 411.5 L178.3 410.0 L178.5 408.6 L178.7 407.1 L178.9 405.6 L179.1 404.1 L179.4 402.6 L179.6 401.2 L179.9 399.7 L180.2 398.2 L180.5 396.7 L180.9 395.3 L181.2 393.8 L181.6 392.4 L181.9 390.9 L182.3 389.5 L182.7 388.0 L183.1 386.6 L183.5 385.1 L184.0 383.7 L184.4 382.3 L184.9 380.8 L185.4 379.4 L185.9 378.0 L186.4 376.6 L186.8 375.1 L187.2 373.6 L187.6 372.2 L188.0 370.7 L188.4 369.2 L188.8 367.7 L189.3 366.3 L189.7 364.9 L190.3 363.5 L190.9 362.2 L191.5 360.9 L192.3 359.6 L193.3 358.4 L194.5 357.5 L195.9 356.8 L197.3 356.5" stroke-width="3.7" stroke-dasharray="3.24 5.35" stroke-dashoffset="0.00"/>
<path d="M197.3 356.5 L198.5 357.1 L199.5 358.4 L200.4 359.8 L201.0 361.0 L201.6 362.4 L202.1 363.9 L202.6 365.3 L203.1 366.8 L203.6 368.2 L204.1 369.6 L204.7 371.0 L205.2 372.4 L205.8 373.8 L206.3 375.2 L206.9 376.6 L207.4 378.0 L207.8 379.4 L208.3 380.9 L208.6 382.3 L209.0 383.8 L209.3 385.2 L209.5 386.7 L209.7 388.2 L210.0 389.7 L210.2 391.2 L210.5 392.6 L210.9 394.1 L211.2 395.6 L211.6 397.0 L211.9 398.5 L212.3 399.9 L212.7 401.4 L213.0 402.8 L213.4 404.3 L213.7 405.8 L214.1 407.2 L214.4 408.7 L214.8 410.1 L215.1 411.6 L215.5 413.0 L215.8 414.5 L216.2 416.0 L216.5 417.4 L216.9 418.9 L217.2 420.3 L217.6 421.8 L217.9 423.3 L218.2 424.7 L218.6 426.2 L218.9 427.6 L219.3 429.1 L219.6 430.6 L219.9 432.0 L220.3 433.5 L220.6 435.0 L220.9 436.4 L221.3 437.9 L221.6 439.3 L221.9 440.8 L222.3 442.3 L222.6 443.7 L223.0 445.2 L223.3 446.6 L223.7 448.1 L224.0 449.6 L224.4 451.0 L224.7 452.5 L225.1 453.9 L225.4 455.4 L225.7 456.9 L226.0 458.3 L226.3 459.8 L226.7 461.3 L227.0 462.7 L227.3 464.2 L227.6 465.7 L227.9 467.1 L228.2 468.6 L228.5 470.1 L228.9 471.5 L229.2 473.0 L229.5 474.4 L229.9 475.9 L230.3 477.4 L230.6 478.8 L231.0 480.3 L231.4 481.7 L231.7 483.2 L232.1 484.6 L232.5 486.1 L232.8 487.5 L233.2 489.0 L233.6 490.5 L233.9 491.9 L234.3 493.4 L234.6 494.8 L235.0 496.3 L235.3 497.8 L235.7 499.2 L236.1 500.7 L236.5 502.1 L236.9 503.5 L237.3 505.0 L237.8 506.4 L238.3 507.8 L238.8 509.2 L239.3 510.6 L239.8 512.0 L240.3 513.5 L240.8 514.9 L241.3 516.3 L241.8 517.7 L242.3 519.1 L242.7 520.6 L243.2 522.0 L243.6 523.4 L244.1 524.8 L244.6 526.3 L245.1 527.7 L245.7 529.1 L246.2 530.5 L246.8 531.9 L247.3 533.3 L247.9 534.6 L248.5 536.0 L249.1 537.4 L249.7 538.8 L250.3 540.1 L251.0 541.5 L251.6 542.8 L252.3 544.2 L253.0 545.5 L253.7 546.8 L254.4 548.2 L255.1 549.5 L255.9 550.8 L256.6 552.1 L257.4 553.4 L258.1 554.7 L258.9 556.0 L259.7 557.2 L260.5 558.5 L261.2 559.8 L262.0 561.1 L262.9 562.4 L263.7 563.6 L264.5 564.9 L265.4 566.1 L266.3 567.3 L267.2 568.5 L268.1 569.7 L269.1 570.8 L270.0 571.9 L271.1 573.0 L272.1 574.1 L273.2 575.2 L274.3 576.2 L275.4 577.3 L276.5 578.3 L277.7 579.2 L278.8 580.2 L280.0 581.1 L281.2 582.0 L282.4 582.8 L283.7 583.6 L285.0 584.3 L286.3 585.1 L287.6 585.8 L288.9 586.6 L290.2 587.4 L291.4 588.3 L292.7 589.2 L293.9 590.0 L295.2 590.8 L296.5 591.5 L297.8 592.2 L299.1 592.9 L300.5 593.5 L301.9 594.1 L303.3 594.7 L304.7 595.3 L306.1 595.8 L307.5 596.3 L308.9 596.7 L310.3 597.2 L311.8 597.6 L313.2 598.0 L314.7 598.4 L316.1 598.8 L317.6 599.1 L319.0 599.5 L320.5 599.8 L322.0 600.1 L323.4 600.5 L324.9 600.8 L326.4 601.1 L327.8 601.5 L329.3 601.8 L330.8 602.1 L332.2 602.4 L333.7 602.7 L335.2 603.0 L336.7 603.2 L338.1 603.4 L339.6 603.6 L341.1 603.8 L342.6 604.0 L344.1 604.2 L345.6 604.4 L347.1 604.5 L348.6 604.7 L350.1 604.8 L351.6 604.9 L353.1 605.0 L354.5 605.1 L356.0 605.2 L357.5 605.3 L359.0 605.4 L360.5 605.4 L362.0 605.5 L363.5 605.6 L365.0 605.6 L366.5 605.7 L368.0 605.8 L369.5 605.8 L371.0 605.9 L372.5 606.0 L374.0 606.0 L375.5 606.1 L377.0 606.2 L378.5 606.2 L380.0 606.3 L381.5 606.3 L383.0 606.4 L384.5 606.5 L386.0 606.5 L387.5 606.6 L389.0 606.7 L390.5 606.7 L392.0 606.8 L393.5 606.9 L395.0 606.9 L396.5 607.0 L398.0 607.1 L399.5 607.2 L401.0 607.2 L402.5 607.3 L404.0 607.4 L405.5 607.5 L407.0 607.5 L408.5 607.6 L410.0 607.7 L411.5 607.8 L413.0 607.9 L414.5 607.9 L416.0 608.0 L417.5 608.1 L419.0 608.2 L420.5 608.2 L422.0 608.3 L423.5 608.4 L425.0 608.5 L426.5 608.5 L428.0 608.6 L429.5 608.7 L431.0 608.7 L432.5 608.8 L434.0 608.9 L435.5 608.9 L437.0 609.0 L438.5 609.1 L440.0 609.1 L441.5 609.2 L443.0 609.2 L444.5 609.3 L446.0 609.4 L447.5 609.4 L448.9 609.5 L450.4 609.5 L451.9 609.6 L453.4 609.6 L454.9 609.7 L456.4 609.7 L457.9 609.7 L459.4 609.8 L460.9 609.8 L462.4 609.9 L463.9 609.9 L465.4 610.0 L466.9 610.0 L468.4 610.0 L469.9 610.1 L471.4 610.1 L472.9 610.1 L474.4 610.2 L475.9 610.2 L477.4 610.2 L478.9 610.2 L480.4 610.3 L481.9 610.3 L483.4 610.3 L484.9 610.3 L486.4 610.3 L487.9 610.3 L489.4 610.4 L490.9 610.4 L492.4 610.4 L493.9 610.4 L495.4 610.4 L496.9 610.4 L498.4 610.4 L499.9 610.4 L501.4 610.5 L502.9 610.5 L504.4 610.5 L505.9 610.5 L507.4 610.5 L508.9 610.5 L510.4 610.5 L511.9 610.5 L513.4 610.5 L514.9 610.5 L516.4 610.6 L517.9 610.6 L519.4 610.6 L520.9 610.6 L522.4 610.6 L523.9 610.6 L525.4 610.6 L526.9 610.6 L528.4 610.6 L529.9 610.6 L531.4 610.6 L532.9 610.6 L534.4 610.6 L535.9 610.6 L537.4 610.6 L538.9 610.6 L540.4 610.6 L541.9 610.6 L543.4 610.6 L544.9 610.5 L546.4 610.5 L547.9 610.5 L549.4 610.5 L550.9 610.5 L552.4 610.4 L553.9 610.4 L555.4 610.4 L556.9 610.4 L558.4 610.3 L559.9 610.3 L561.4 610.3 L562.9 610.3 L564.4 610.2 L565.9 610.2 L567.4 610.2 L568.9 610.2 L570.4 610.1 L571.9 610.1 L573.4 610.1 L574.9 610.1 L576.4 610.0 L577.9 610.0 L579.4 610.0 L580.9 610.0 L582.4 610.0 L583.9 610.0 L585.4 609.9 L586.9 609.9 L588.4 609.9 L589.9 609.9 L591.4 609.9 L592.9 609.8 L594.4 609.8 L595.9 609.8 L597.4 609.8 L598.9 609.8 L600.4 609.7 L601.9 609.7 L603.4 609.7 L604.9 609.7 L606.4 609.7 L607.9 609.6 L609.4 609.6 L610.9 609.6 L612.4 609.6 L613.9 609.6 L615.4 609.6 L616.9 609.5 L618.4 609.5 L619.9 609.5 L621.4 609.5 L622.9 609.5 L624.4 609.5 L625.9 609.5 L627.4 609.4 L628.9 609.4 L630.4 609.4 L631.9 609.4 L633.4 609.4 L634.9 609.4 L636.4 609.4 L637.9 609.4 L639.4 609.4 L640.9 609.4 L642.4 609.4 L643.9 609.4 L645.4 609.4 L646.9 609.4 L648.4 609.4 L649.9 609.4 L651.4 609.5 L652.9 609.5 L654.4 609.5 L655.9 609.5 L657.4 609.5 L658.9 609.5 L660.4 609.6 L661.9 609.6 L663.4 609.6 L664.9 609.6 L666.4 609.7 L667.9 609.7 L669.4 609.7 L670.9 609.7 L672.4 609.8 L673.9 609.8 L675.4 609.8 L676.9 609.8 L678.4 609.9 L679.9 609.9 L681.4 609.9 L682.9 609.9 L684.4 610.0 L685.9 610.0 L687.4 610.0 L688.9 610.0 L690.4 610.1 L691.9 610.1 L693.4 610.1 L694.9 610.1 L696.4 610.2 L697.9 610.2 L699.4 610.2 L700.9 610.2 L702.4 610.2 L703.9 610.2 L705.4 610.3 L706.9 610.3 L708.4 610.3 L709.9 610.3 L711.4 610.3 L712.9 610.3 L714.4 610.4 L715.9 610.4 L717.4 610.4 L718.9 610.4 L720.4 610.4 L721.9 610.5 L723.4 610.5 L724.9 610.5 L726.4 610.5 L727.9 610.5 L729.4 610.5 L730.9 610.6 L732.4 610.6 L733.9 610.6 L735.4 610.6 L736.9 610.6 L738.4 610.6 L739.9 610.6 L741.4 610.7 L742.9 610.7 L744.4 610.7 L745.9 610.7 L747.4 610.7 L748.9 610.7 L750.4 610.7 L751.9 610.7 L753.4 610.8 L754.9 610.8 L756.4 610.8 L757.9 610.8 L759.4 610.8 L760.9 610.8 L762.4 610.8 L763.9 610.8 L765.4 610.8 L766.9 610.8 L768.4 610.8 L769.9 610.9 L771.4 610.9 L772.9 610.9 L774.4 610.9 L775.9 610.9 L777.4 610.9 L778.9 610.9 L780.4 610.9 L781.9 610.9 L783.4 610.9 L784.9 610.9 L786.4 610.9 L787.9 610.9 L789.4 610.9 L790.9 611.0 L792.4 611.0 L793.9 611.0 L795.4 611.0 L796.9 611.0 L798.4 611.0 L799.9 611.0 L801.4 611.0 L802.9 611.0 L804.4 611.0 L805.9 611.0 L807.4 611.0 L808.0 611.0" stroke-width="3.7" stroke-dasharray="3.24 5.35" stroke-dashoffset="5.22"/>
</g>
<rect x="71.7" y="35.7" width="772.5999999999999" height="576.5999999999999" fill="none" stroke="#000" stroke-width="1.75"/>
<g stroke="#000" stroke-width="1.75">
<line x1="145.9" y1="612.3" x2="145.9" y2="620.4999999999999"/>
<line x1="292.6" y1="612.3" x2="292.6" y2="620.4999999999999"/>
<line x1="439.4" y1="612.3" x2="439.4" y2="620.4999999999999"/>
<line x1="586.1" y1="612.3" x2="586.1" y2="620.4999999999999"/>
<line x1="732.9" y1="612.3" x2="732.9" y2="620.4999999999999"/>
<line x1="63.5" y1="612.3" x2="71.7" y2="612.3"/>
<line x1="63.5" y1="543.0" x2="71.7" y2="543.0"/>
<line x1="63.5" y1="473.6" x2="71.7" y2="473.6"/>
<line x1="63.5" y1="404.3" x2="71.7" y2="404.3"/>
<line x1="63.5" y1="334.9" x2="71.7" y2="334.9"/>
<line x1="63.5" y1="265.6" x2="71.7" y2="265.6"/>
<line x1="63.5" y1="196.3" x2="71.7" y2="196.3"/>
<line x1="63.5" y1="126.9" x2="71.7" y2="126.9"/>
<line x1="63.5" y1="57.6" x2="71.7" y2="57.6"/>
</g>
<text font-family="'Liberation Sans', sans-serif" stroke="#000" stroke-width="0.4" font-size="21.2" x="43.57" y="619.90" textLength="13.26" lengthAdjust="spacingAndGlyphs" >0</text>
<text font-family="'Liberation Sans', sans-serif" stroke="#000" stroke-width="0.4" font-size="21.2" x="43.54" y="550.56" textLength="13.37" lengthAdjust="spacingAndGlyphs" >5</text>
<text font-family="'Liberation Sans', sans-serif" stroke="#000" stroke-width="0.4" font-size="21.2" x="30.07" y="481.22" textLength="26.77" lengthAdjust="spacingAndGlyphs" >10</text>
<text font-family="'Liberation Sans', sans-serif" stroke="#000" stroke-width="0.4" font-size="21.2" x="30.06" y="411.89" textLength="26.85" lengthAdjust="spacingAndGlyphs" >15</text>
<text font-family="'Liberation Sans', sans-serif" stroke="#000" stroke-width="0.4" font-size="21.2" x="30.72" y="342.55" textLength="26.10" lengthAdjust="spacingAndGlyphs" >20</text>
<text font-family="'Liberation Sans', sans-serif" stroke="#000" stroke-width="0.4" font-size="21.2" x="30.72" y="273.21" textLength="26.17" lengthAdjust="spacingAndGlyphs" >25</text>
<text font-family="'Liberation Sans', sans-serif" stroke="#000" stroke-width="0.4" font-size="21.2" x="31.02" y="203.87" textLength="25.79" lengthAdjust="spacingAndGlyphs" >30</text>
<text font-family="'Liberation Sans', sans-serif" stroke="#000" stroke-width="0.4" font-size="21.2" x="31.01" y="134.54" textLength="25.86" lengthAdjust="spacingAndGlyphs" >35</text>
<text font-family="'Liberation Sans', sans-serif" stroke="#000" stroke-width="0.4" font-size="21.2" x="31.38" y="65.20" textLength="25.42" lengthAdjust="spacingAndGlyphs" >40</text>
<g transform="translate(145.0 645.0) rotate(-45)"><text font-family="'Liberation Sans', sans-serif" stroke="#000" stroke-width="0.4" font-size="21.2" x="-15.63" y="7.25" textLength="31.26" lengthAdjust="spacingAndGlyphs" >0.0</text></g>
<g transform="translate(291.8 645.0) rotate(-45)"><text font-family="'Liberation Sans', sans-serif" stroke="#000" stroke-width="0.4" font-size="21.2" x="-15.63" y="7.25" textLength="31.49" lengthAdjust="spacingAndGlyphs" >0.1</text></g>
<g transform="translate(438.5 645.0) rotate(-45)"><text font-family="'Liberation Sans', sans-serif" stroke="#000" stroke-width="0.4" font-size="21.2" x="-15.64" y="7.25" textLength="31.53" lengthAdjust="spacingAndGlyphs" >0.2</text></g>
<g transform="translate(585.2 645.0) rotate(-45)"><text font-family="'Liberation Sans', sans-serif" stroke="#000" stroke-width="0.4" font-size="21.2" x="-15.63" y="7.25" textLength="31.37" lengthAdjust="spacingAndGlyphs" >0.3</text></g>
<g transform="translate(732.0 645.0) rotate(-45)"><text font-family="'Liberation Sans', sans-serif" stroke="#000" stroke-width="0.4" font-size="21.2" x="-15.62" y="7.25" textLength="31.03" lengthAdjust="spacingAndGlyphs" >0.4</text></g>
<text font-family="'Liberation Sans', sans-serif" stroke="#000" stroke-width="0.4" font-size="21.0" x="432.41" y="687.10" textLength="51.08" lengthAdjust="spacingAndGlyphs" >Value</text>
<g transform="translate(19.3 359) rotate(-90)"><text font-family="'Liberation Sans', sans-serif" stroke="#000" stroke-width="0.4" font-size="21.0" x="-1.70" y="0.00" textLength="69.24" lengthAdjust="spacingAndGlyphs" >Density</text></g>
<text font-family="'Liberation Sans', sans-serif" stroke="#000" stroke-width="0.4" font-size="25.0" y="22.70"><tspan x="125.96" textLength="71.61" lengthAdjust="spacingAndGlyphs">2010,</tspan> <tspan x="203.86" textLength="71.72" lengthAdjust="spacingAndGlyphs">2014,</tspan> <tspan x="281.78" textLength="62.95" lengthAdjust="spacingAndGlyphs">2018</tspan> <tspan x="352.43" textLength="42.10" lengthAdjust="spacingAndGlyphs">and</tspan> <tspan x="401.77" textLength="63.16" lengthAdjust="spacingAndGlyphs">2022</tspan> <tspan x="472.38" textLength="52.02" lengthAdjust="spacingAndGlyphs">Data</tspan> <tspan x="534.35" textLength="31.84" lengthAdjust="spacingAndGlyphs">2D</tspan> <tspan x="572.63" textLength="72.85" lengthAdjust="spacingAndGlyphs">Kernel</tspan> <tspan x="653.60" textLength="81.45" lengthAdjust="spacingAndGlyphs">Density</tspan> <tspan x="744.73" textLength="43.45" lengthAdjust="spacingAndGlyphs">Plot</tspan></text>
<text font-family="'Liberation Sans', sans-serif" stroke="#000" stroke-width="0.4" font-size="20.5" y="731.60"><tspan x="214.43" textLength="68.44" lengthAdjust="spacingAndGlyphs">Kernel:</tspan> <tspan x="289.27" textLength="86.15" lengthAdjust="spacingAndGlyphs">Gaussian</tspan> <tspan x="382.99" textLength="68.16" lengthAdjust="spacingAndGlyphs">('gau'),</tspan> <tspan x="457.38" textLength="103.63" lengthAdjust="spacingAndGlyphs">Bandwidth:</tspan> <tspan x="566.88" textLength="66.53" lengthAdjust="spacingAndGlyphs">Scott's</tspan> <tspan x="641.53" textLength="34.39" lengthAdjust="spacingAndGlyphs">rule</tspan></text>
<rect x="703.9" y="46.5" width="129.9" height="124.2" rx="4.3" ry="4.3" fill="#fff" fill-opacity="0.8" stroke="#c6c6c6" stroke-width="1.75"/>
<line x1="711.8" y1="62.8" x2="757.3" y2="62.8" stroke="#000" stroke-width="3.7"  stroke-linecap="square"/>
<text font-family="'Liberation Sans', sans-serif" stroke="#000" stroke-width="0.4" font-size="21.2" x="772.65" y="70.30" textLength="51.05" lengthAdjust="spacingAndGlyphs" >2010</text>
<line x1="711.8" y1="92.3" x2="757.3" y2="92.3" stroke="#000" stroke-width="3.7" stroke-dasharray="12 5.2" />
<text font-family="'Liberation Sans', sans-serif" stroke="#000" stroke-width="0.4" font-size="21.2" x="772.65" y="99.80" textLength="50.82" lengthAdjust="spacingAndGlyphs" >2014</text>
<line x1="711.8" y1="121.8" x2="757.3" y2="121.8" stroke="#000" stroke-width="3.7" stroke-dasharray="20.8 5.2 3.2 5.2" />
<text font-family="'Liberation Sans', sans-serif" stroke="#000" stroke-width="0.4" font-size="21.2" x="772.64" y="129.30" textLength="51.16" lengthAdjust="spacingAndGlyphs" >2018</text>
<line x1="711.8" y1="151.35" x2="757.3" y2="151.35" stroke="#000" stroke-width="3.7" stroke-dasharray="3.24 5.35" />
<text font-family="'Liberation Sans', sans-serif" stroke="#000" stroke-width="0.4" font-size="21.2" x="772.64" y="158.85" textLength="51.32" lengthAdjust="spacingAndGlyphs" >2022</text>
</svg>
</body></html>
